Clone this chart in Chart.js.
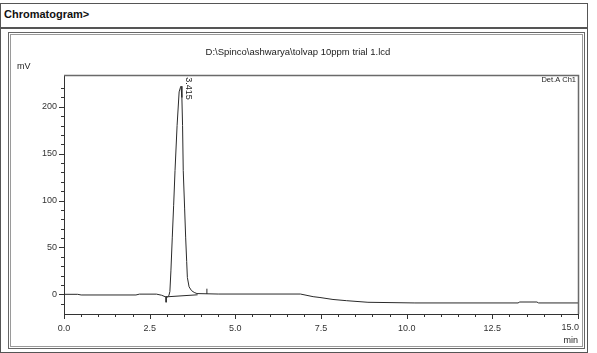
<!DOCTYPE html>
<html><head><meta charset="utf-8">
<script src="https://cdn.jsdelivr.net/npm/chart.js@4.4.1/dist/chart.umd.min.js"></script>
<style>
html,body{margin:0;padding:0;background:#fff;}
#wrap{position:relative;width:597px;height:353px;overflow:hidden;font-family:"Liberation Sans",Arial,sans-serif;}
#outer{position:absolute;left:0;top:3px;width:588px;height:350px;border:1px solid #555;box-sizing:border-box;}
#sep{position:absolute;left:0;top:27px;width:588px;height:2px;background:#555;}
#head{position:absolute;left:4px;top:7px;font-weight:bold;font-size:11px;color:#111;line-height:14px;}
#inner{position:absolute;left:8px;top:32px;width:577px;height:317px;border:1px solid #666;box-sizing:border-box;box-shadow:inset 0 0 0 1px #fff, inset 0 0 0 2px #9a9a9a;}
canvas{position:absolute;left:0;top:0;}
</style></head>
<body>
<div id="wrap">
  <div id="outer"></div>
  <div id="sep"></div>
  <div id="head">Chromatogram&gt;</div>
  <div id="inner"></div>
  <canvas id="c" width="597" height="353"></canvas>
</div>
<script>
// ---- data ----
const FILE_TITLE = 'D:\\Spinco\\ashwarya\\tolvap 10ppm trial 1.lcd';
const DETECTOR = 'Det.A Ch1';
const Y_UNIT = 'mV';
const X_UNIT = 'min';
const time   = [0, 0.4, 0.5, 2.1, 2.2, 2.7, 2.85, 2.95, 3.02, 3.06, 3.09, 3.12, 3.16, 3.20, 3.24, 3.30, 3.36, 3.40, 3.415, 3.44, 3.46, 3.48, 3.52, 3.55, 3.58, 3.60, 3.65, 3.72, 3.80, 3.88, 4.5, 6.9, 7.27, 7.47, 7.85, 8.25, 8.87, 10.24, 13.25, 13.3, 13.8, 13.85, 15];
const signal = [0, 0, -0.7, -0.7, 0.2, 0.2, -1, -2.5, -2.8, -1.5, 3, 25, 61, 95, 132, 180, 216, 221, 222, 210, 180, 132, 92, 61, 35, 18, 8, 4, 2, 0.8, 0.3, 0.3, -2.5, -3.4, -5.5, -6.8, -8.5, -9.2, -9.2, -8.2, -8.2, -9.2, -9.2];
const peakTime = 3.415;
const peakHeight = 222;
const peakLabel = '3.415';
const baseTime = [2.98, 3.9];
const baseVal  = [-2.7, -0.5];
const eventDownTime = [2.98, 2.98];
const eventDownVal  = [-2.7, -8.5];
const eventUpTime = [4.17, 4.17];
const eventUpVal  = [0.3, 6];
const xTickStep = 0.5, xLabelStep = 2.5;
const yTickStep = 10, yLabelStep = 50;
const yMin = -21, yMax = 234, xMin = 0, xMax = 15;

const FONT = '"Liberation Sans", Arial, sans-serif';
const pts = (xs, ys) => xs.map((v, i) => ({x: v, y: ys[i]}));
const isMult = (v, s) => Math.abs(v / s - Math.round(v / s)) < 1e-6;

const decor = {
  id: 'decor',
  afterDraw(chart) {
    const {ctx, chartArea: a, scales: {x, y}} = chart;
    ctx.save();
    // top & right frame of plot
    ctx.strokeStyle = '#6a6a6a'; ctx.lineWidth = 1.5;
    ctx.beginPath();
    ctx.moveTo(a.left, a.top + 0.5); ctx.lineTo(a.right + 0.5, a.top + 0.5); ctx.lineTo(a.right + 0.5, a.bottom);
    ctx.stroke();
    // tick marks
    ctx.strokeStyle = '#333'; ctx.lineWidth = 1;
    ctx.beginPath();
    x.ticks.forEach(t => {
      if (!isMult(t.value, xTickStep)) return;
      const px = Math.round(x.getPixelForValue(t.value)) + 0.5;
      const len = isMult(t.value, xLabelStep) ? 5 : 3;
      ctx.moveTo(px, a.bottom); ctx.lineTo(px, a.bottom + len);
    });
    y.ticks.forEach(t => {
      if (!isMult(t.value, yTickStep)) return;
      const py = Math.round(y.getPixelForValue(t.value)) + 0.5;
      const len = isMult(t.value, yLabelStep) ? 5 : 3;
      ctx.moveTo(a.left, py); ctx.lineTo(a.left - len, py);
    });
    ctx.stroke();
    // texts
    ctx.fillStyle = '#222';
    ctx.font = '9px ' + FONT;
    ctx.textBaseline = 'middle';
    ctx.textAlign = 'left';
    ctx.fillText(Y_UNIT, 17, 67);
    ctx.textAlign = 'right';
    ctx.fillText(X_UNIT, a.right, 341);
    // last x label, right-aligned to its tick as in the reference
    ctx.fillStyle = '#333';
    ctx.textBaseline = 'top';
    ctx.fillText(Number(xMax).toFixed(1), x.getPixelForValue(xMax) + 1, a.bottom + 9);
    ctx.fillStyle = '#222';
    ctx.textBaseline = 'middle';
    ctx.font = '7.5px ' + FONT;
    ctx.fillText(DETECTOR, a.right - 2, a.top + 5);
    // peak label (rotated)
    ctx.font = '9px ' + FONT;
    const lx = x.getPixelForValue(peakTime) + 7;
    const ly = y.getPixelForValue(peakHeight) - 9;
    ctx.translate(lx, ly);
    ctx.rotate(Math.PI / 2);
    ctx.textAlign = 'left';
    ctx.fillText(peakLabel, 0, 0);
    ctx.restore();
  }
};

const line = (data, color, w) => ({data, showLine: true, borderColor: color, borderWidth: w, pointRadius: 0, fill: false, tension: 0});

new Chart(document.getElementById('c'), {
  type: 'scatter',
  data: {datasets: [
    line(pts(time, signal), '#2a2a2a', 1),
    line(pts(baseTime, baseVal), '#2a2a2a', 1),
    line(pts(eventDownTime, eventDownVal), '#2a2a2a', 1),
    line(pts(eventUpTime, eventUpVal), '#2a2a2a', 1)
  ]},
  options: {
    responsive: false, animation: false, devicePixelRatio: 1,
    layout: {padding: {left: 18, right: 19, top: 0, bottom: 0}},
    plugins: {
      legend: {display: false}, tooltip: {enabled: false},
      title: {display: true, text: FILE_TITLE, color: '#222', font: {family: FONT, size: 9.5, weight: 'normal'}, padding: {top: 47, bottom: 16.6}}
    },
    scales: {
      x: {type: 'linear', min: xMin, max: xMax,
        grid: {display: false, drawTicks: false},
        border: {display: true, color: '#333', width: 1},
        ticks: {stepSize: xTickStep, autoSkip: false, maxRotation: 0, padding: 9, color: '#333', font: {family: FONT, size: 9},
          callback: v => (isMult(v, xLabelStep) && v < xMax) ? Number(v).toFixed(1) : ''},
        afterFit: s => { s.height = 39; }
      },
      y: {type: 'linear', min: yMin, max: yMax,
        grid: {display: false, drawTicks: false},
        border: {display: true, color: '#333', width: 1},
        ticks: {stepSize: yTickStep, autoSkip: false, padding: 7, color: '#333', font: {family: FONT, size: 9},
          callback: v => isMult(v, yLabelStep) ? String(Math.round(v)) : ''},
        afterFit: s => { s.width = 46; }
      }
    }
  },
  plugins: [decor]
});
</script>
</body></html>
